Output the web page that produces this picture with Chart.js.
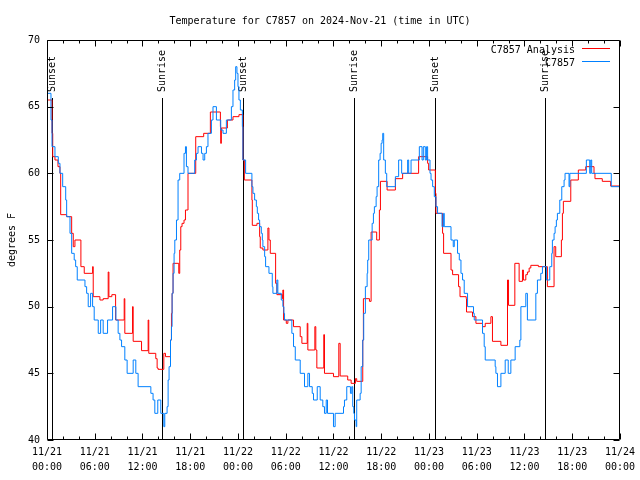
<!DOCTYPE html>
<html>
<head>
<meta charset="utf-8">
<script src="https://cdn.jsdelivr.net/npm/chart.js@4.4.1/dist/chart.umd.min.js"></script>
<style>
  html, body { margin: 0; padding: 0; background: #fff; }
  #wrap { width: 640px; height: 480px; }
</style>
</head>
<body>
<div id="wrap"><canvas id="chart" width="640" height="480"></canvas></div>
<script>
// hours since 2024-11-21 00:00 UTC
const analysisHours = [0.00, 0.63, 0.72, 1.00, 1.38, 1.63, 1.72, 2.47, 3.10, 3.30, 3.51, 4.26, 4.68, 5.73, 5.81,
  6.65, 7.06, 7.69, 7.78, 8.15, 8.62, 9.70, 9.78, 10.75, 10.83, 11.88, 12.71, 12.79, 13.67, 13.84, 13.96,
  14.68, 14.89, 15.52, 15.64, 15.72, 15.84, 16.56, 16.68, 16.81, 16.97, 17.22, 17.40, 17.72, 18.69, 19.69,
  20.53, 21.79, 21.83, 21.91, 22.67, 23.37, 24.12, 24.62, 24.80, 25.75, 25.80, 26.38, 26.72, 26.80, 27.13,
  27.76, 27.89, 28.06, 28.73, 28.89, 29.57, 29.64, 29.73, 30.07, 30.27, 30.98, 31.82, 32.03, 32.70, 32.78,
  33.66, 33.78, 33.91, 34.78, 34.87, 36.00, 36.67, 36.84, 37.79, 38.22, 38.76, 38.92, 39.68, 39.76, 40.52,
  40.73, 41.43, 41.77, 41.90, 42.74, 43.78, 44.69, 46.70, 47.83, 47.96, 48.80, 48.88, 49.71, 49.84, 50.77,
  50.97, 51.72, 51.90, 52.68, 52.72, 53.47, 53.90, 54.73, 55.07, 55.78, 55.98, 57.04, 57.87, 58.00, 58.79,
  59.33, 59.75, 59.87, 60.17, 60.37, 60.59, 60.80, 61.75, 62.88, 63.72, 63.93, 64.64, 64.77, 64.89, 65.82,
  66.77, 67.70, 68.74, 68.86, 69.78, 70.83, 72.00];
const analysisTemps = [65.5, 63, 61.25, 61, 60.5, 60, 56.9, 56.75, 55.5, 54.5, 55, 53, 52.5, 53, 50.75,
  50.5, 50.6, 52.6, 50.75, 50.9, 49, 50.6, 48, 50, 47.4, 46.7, 49, 46.5, 46.1, 45.4, 45.3,
  46.5, 46.25, 47.5, 49.5, 51, 53.25, 52.5, 54.25, 56, 56.25, 56.5, 57.25, 60, 62.75, 63,
  64.6, 63.5, 62.25, 63.4, 64, 64.25, 64.4, 61, 59.5, 58, 56.1, 56.25, 55.25, 54.4, 54.25,
  55.9, 55, 54, 51.75, 50.9, 50.6, 51.25, 49, 48.75, 49, 48.5, 47.75, 47.25, 48.75, 46.75,
  48.5, 46.75, 45.4, 47.9, 45, 44.75, 47.25, 44.8, 44.5, 44.25, 44.6, 44.4, 47.5, 50.6, 50.4,
  55.6, 55, 57.25, 59.4, 58.75, 59.6, 60, 61.25, 60.75, 60.25, 58.5, 57, 55.5, 54, 52.75,
  52.4, 51.5, 50.75, 50.6, 49.6, 49.25, 48.75, 48.5, 48.75, 49.25, 47.4, 47.1, 52, 50.1, 53.25,
  51.9, 52.75, 52, 52.4, 52.6, 52.9, 53.1, 53, 51.5, 54.5, 53.75, 55, 57, 57.9, 59.5,
  60.25, 60.5, 60, 59.6, 59.4, 59.05, 59.05];

const stationHours = [0.00, 0.50, 0.63, 1.00, 1.42, 1.63, 1.97, 2.35, 2.47, 2.89, 3.10, 3.42, 3.60, 3.80, 4.77,
  4.98, 5.18, 5.48, 5.73, 5.93, 6.44, 6.74, 7.06, 7.61, 8.24, 8.66, 8.94, 9.16, 9.37, 9.78, 10.07, 10.83,
  11.16, 11.45, 13.05, 13.33, 13.55, 13.92, 14.30, 14.68, 14.80, 15.09, 15.22, 15.34, 15.52, 15.64, 15.72,
  15.84, 15.97, 16.06, 16.27, 16.47, 16.68, 17.22, 17.40, 17.52, 17.72, 18.56, 18.78, 18.98, 19.41, 19.61,
  19.82, 20.03, 20.23, 20.66, 20.86, 21.29, 21.83, 22.12, 22.54, 23.17, 23.37, 23.58, 23.71, 23.87, 24.00,
  24.12, 24.30, 24.55, 24.62, 24.96, 25.75, 25.88, 26.09, 26.31, 26.43, 26.59, 26.72, 26.93, 27.06, 27.13,
  27.35, 27.47, 27.89, 28.31, 28.39, 28.89, 29.01, 29.44, 29.64, 29.77, 29.85, 30.77, 30.98, 31.20, 31.82,
  32.36, 32.78, 32.99, 33.33, 33.49, 33.96, 34.33, 34.66, 34.87, 35.09, 35.25, 36.00, 36.21, 37.26, 37.38,
  37.67, 38.13, 38.30, 38.42, 38.55, 38.64, 38.85, 38.92, 39.35, 39.48, 39.68, 39.80, 40.01, 40.23, 40.30,
  40.43, 40.86, 41.02, 41.14, 41.36, 41.48, 41.68, 41.86, 41.99, 42.11, 42.19, 42.31, 42.52, 42.69, 43.78,
  44.19, 44.57, 45.32, 45.45, 45.75, 46.79, 47.13, 47.29, 47.54, 47.70, 47.83, 48.13, 48.26, 48.46, 48.67,
  48.88, 49.08, 49.64, 49.84, 49.92, 50.77, 51.05, 51.18, 51.59, 51.81, 52.02, 52.22, 52.43, 52.85, 53.60,
  53.69, 54.73, 54.94, 55.07, 56.32, 56.41, 56.61, 57.04, 57.58, 57.96, 58.29, 58.83, 59.42, 59.55, 60.17,
  60.37, 61.43, 61.63, 62.05, 62.26, 62.76, 63.18, 63.43, 63.51, 63.72, 63.85, 64.01, 64.14, 64.44, 64.69,
  64.98, 65.10, 65.60, 65.70, 67.78, 68.20, 68.33, 68.45, 70.91, 72.00];
const stationTemps = [66, 64, 62, 61.25, 60.75, 60, 59, 58, 56.75, 55.5, 54, 53.5, 53, 52, 51.5,
  51, 50, 51, 50, 49, 48, 49, 48, 49, 50, 49, 48, 47.5, 47, 46, 45, 46,
  45, 44, 43.5, 43, 42, 43, 42, 41, 42, 42.5, 44.5, 45.5, 47.5, 48.5, 51,
  52.5, 54, 55, 56.5, 59.5, 60, 61.5, 62, 60.5, 60, 61, 61.5, 62, 61.5, 61,
  61.5, 62, 63, 64, 65, 64, 63.25, 63, 64, 65, 66.25, 67, 68, 67.5, 66.5,
  65.5, 64.75, 63.5, 61, 60, 59, 58.5, 58, 57.5, 57, 56.5, 56, 55.5, 55, 54.5,
  53.75, 53, 52.5, 51.5, 51, 52, 51, 50.5, 50, 49.5, 49, 48, 47, 46, 45,
  44, 45, 44, 43.5, 43, 44, 43, 42.5, 42, 43, 42, 41, 42, 42.5, 43,
  44, 43.5, 44, 42.5, 42, 41.5, 41, 43, 43.5, 45.5, 47.5, 49.5, 51.5, 52.5, 53.5,
  55, 56.25, 57, 57.5, 58.25, 59, 61, 61.5, 62.25, 62.5, 63, 61, 60, 59, 59.75,
  61, 60, 61, 60, 61, 62, 61, 62, 61, 62, 61, 60, 59.5, 59, 58.25,
  57.5, 57, 56, 57, 56, 55, 54.5, 55, 54, 53.5, 52.5, 52, 51, 50, 49.5,
  49, 48, 47, 46, 45.5, 45, 44, 45, 46, 45, 46, 47, 47.5, 50, 51,
  49, 51, 52, 52.5, 53, 52, 53, 54, 55, 55.5, 56, 56.5, 57, 58, 59,
  59.5, 60, 59, 60, 61, 60, 61, 60, 59, 59];

const sunHours = [0.59, 14.46, 24.62, 38.55, 48.73, 62.63];
const sunLabels = ['Sunset', 'Sunrise', 'Sunset', 'Sunrise', 'Sunset', 'Sunrise'];
const seriesNames = ['C7857 Analysis', 'C7857'];
const seriesColors = ['#ff0000', '#0080ff'];
const chartTitle = 'Temperature for C7857 on 2024-Nov-21 (time in UTC)';
const yAxisTitle = 'degrees F';
const startMonth = 11;
const startDay = 21;

const FONT = '"DejaVu Sans Mono", "Liberation Mono", monospace';

function toPoints(hours, temps) {
  return hours.map((h, i) => ({ x: h, y: temps[i] }));
}

function tickLabel(h) {
  const day = startDay + Math.floor(h / 24);
  const hr = Math.round(h % 24);
  return [startMonth + '/' + day, String(hr).padStart(2, '0') + ':00'];
}

// gnuplot-ish decorations: frame, inward ticks, sun lines, title, legend
const gnuplotDecor = {
  id: 'gnuplotDecor',
  beforeDatasetsDraw(chart) {
    const { ctx, chartArea: a, scales: { x } } = chart;
    ctx.save();
    ctx.strokeStyle = '#000';
    ctx.lineWidth = 1;
    ctx.fillStyle = '#000';
    ctx.font = '10px ' + FONT;
    sunHours.forEach((h, i) => {
      const px = Math.round(x.getPixelForValue(h)) + 0.5;
      ctx.beginPath();
      ctx.moveTo(px, 98);
      ctx.lineTo(px, a.bottom);
      ctx.stroke();
      ctx.save();
      ctx.translate(px, 92);
      ctx.rotate(-Math.PI / 2);
      ctx.textAlign = 'left';
      ctx.textBaseline = 'middle';
      ctx.fillText(sunLabels[i], 0, 0);
      ctx.restore();
    });
    ctx.restore();
  },
  afterDatasetsDraw(chart) {
    const { ctx, chartArea: a, scales: { x, y } } = chart;
    ctx.save();
    ctx.strokeStyle = '#000';
    ctx.lineWidth = 1;
    const L = Math.round(a.left) + 0.5, R = Math.round(a.right) - 0.5;
    const T = Math.round(a.top) + 0.5, B = Math.round(a.bottom) - 0.5;
    ctx.beginPath();
    ctx.rect(L, T, R - L, B - T);
    ctx.stroke();

    ctx.beginPath();
    for (let h = 0; h <= 72; h += 2) {
      const px = Math.round(x.getPixelForValue(h)) + 0.5;
      const len = h % 6 === 0 ? 6 : 3;
      ctx.moveTo(px, B); ctx.lineTo(px, B - len);
      ctx.moveTo(px, T); ctx.lineTo(px, T + len);
    }
    for (let v = 40; v <= 70; v += 5) {
      const py = Math.round(y.getPixelForValue(v)) + 0.5;
      ctx.moveTo(L, py); ctx.lineTo(L + 6, py);
      ctx.moveTo(R, py); ctx.lineTo(R - 6, py);
    }
    ctx.stroke();

    // title
    ctx.fillStyle = '#000';
    ctx.font = '10px ' + FONT;
    ctx.textAlign = 'center';
    ctx.textBaseline = 'middle';
    ctx.fillText(chartTitle, 320, 21);

    // legend (text right, sample line after)
    ctx.textAlign = 'right';
    seriesNames.forEach((name, i) => {
      const ly = 50 + i * 13;
      ctx.fillStyle = '#000';
      ctx.fillText(name, 575, ly);
      ctx.strokeStyle = seriesColors[i];
      ctx.beginPath();
      ctx.moveTo(582, Math.round(ly - 2) + 0.5);
      ctx.lineTo(610, Math.round(ly - 2) + 0.5);
      ctx.stroke();
    });
    ctx.restore();
  }
};

new Chart(document.getElementById('chart'), {
  type: 'line',
  data: {
    datasets: [
      {
        label: seriesNames[1],
        data: toPoints(stationHours, stationTemps),
        borderColor: seriesColors[1],
        borderWidth: 1,
        stepped: 'before',
        pointRadius: 0,
        fill: false,
        order: 0
      },
      {
        label: seriesNames[0],
        data: toPoints(analysisHours, analysisTemps),
        borderColor: seriesColors[0],
        borderWidth: 1,
        stepped: 'before',
        pointRadius: 0,
        fill: false,
        order: 1
      }
    ]
  },
  options: {
    responsive: false,
    animation: false,
    devicePixelRatio: 1,
    layout: { padding: { top: 40, right: 19, left: 0, bottom: 0 } },
    plugins: {
      legend: { display: false },
      title: { display: false },
      tooltip: { enabled: false }
    },
    scales: {
      x: {
        type: 'linear',
        min: 0,
        max: 72,
        grid: { display: false, drawTicks: false },
        border: { display: false },
        ticks: {
          stepSize: 6,
          autoSkip: false,
          maxRotation: 0,
          padding: 5,
          color: '#000',
          font: { family: FONT, size: 10, lineHeight: 1.5 },
          callback: (v) => tickLabel(v)
        },
        afterFit: (scale) => { scale.height = 40; }
      },
      y: {
        min: 40,
        max: 70,
        grid: { display: false, drawTicks: false },
        border: { display: false },
        ticks: {
          stepSize: 5,
          padding: 7,
          color: '#000',
          font: { family: FONT, size: 10 }
        },
        title: {
          display: true,
          text: yAxisTitle,
          color: '#000',
          font: { family: FONT, size: 10 },
          padding: { top: 6, bottom: 0 }
        },
        afterFit: (scale) => { scale.width = 47; }
      }
    }
  },
  plugins: [gnuplotDecor]
});
</script>
</body>
</html>
